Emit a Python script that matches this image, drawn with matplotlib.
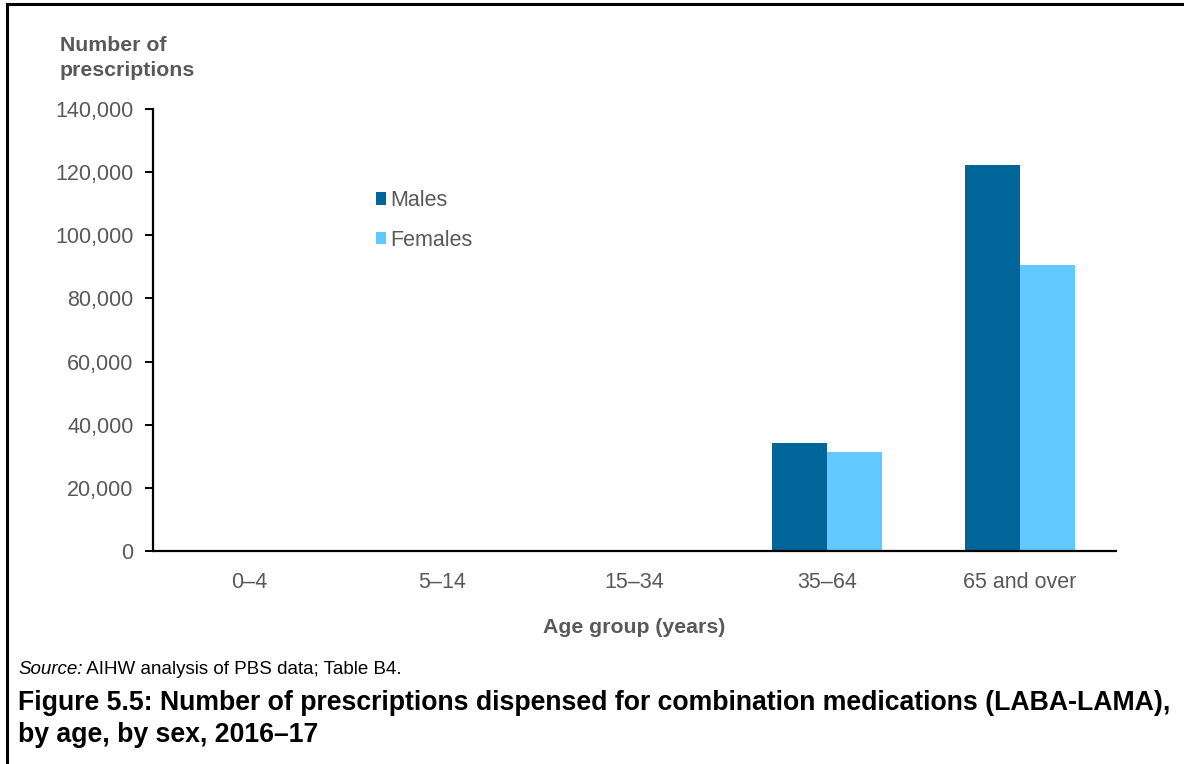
import numpy as np
import matplotlib
matplotlib.use("Agg")
import matplotlib.pyplot as plt
from matplotlib.lines import Line2D
from matplotlib.ticker import FuncFormatter

plt.rcParams["font.family"] = ["Liberation Sans", "DejaVu Sans"]

age_groups = ["0–4", "5–14", "15–34", "35–64", "65 and over"]
males = [0, 0, 400, 34200, 122200]
females = [0, 0, 100, 31400, 90700]

male_color = "#006699"
female_color = "#61C9FF"
grey = "#595959"

fig = plt.figure(figsize=(11.84, 7.64), dpi=100)
ax = fig.add_axes([0.1292, 0.2788, 0.8134, 0.5785])

x = np.arange(len(age_groups))
w = 0.285
ax.bar(x - w / 2, males, width=w, color=male_color, label="Males")
ax.bar(x + w / 2, females, width=w, color=female_color, label="Females")

ax.set_xlim(-0.5, len(age_groups) - 0.5)
ax.set_ylim(0, 140000)
ax.set_yticks(np.arange(0, 140001, 20000))
ax.yaxis.set_major_formatter(FuncFormatter(lambda v, p: f"{int(v):,}"))
ax.set_xticks(x)
ax.set_xticklabels(age_groups)

for s in ["top", "right"]:
    ax.spines[s].set_visible(False)
for s in ["left", "bottom"]:
    ax.spines[s].set_linewidth(1.6)
    ax.spines[s].set_color("black")

ax.tick_params(axis="y", length=6, width=1.4, colors="black", labelcolor=grey,
               labelsize=15.5, pad=8)
ax.tick_params(axis="x", length=0, labelcolor=grey, labelsize=15.5, pad=15)

ax.set_xlabel("Age group (years)", fontsize=15.3, fontweight="bold", color=grey,
              labelpad=18)

fig.text(60 / 1184, 1 - 58 / 764, "Number of\nprescriptions", fontsize=15.3,
         fontweight="bold", color=grey, ha="left", va="center", linespacing=1.38)

ax.legend(loc="upper left", bbox_to_anchor=(0.211, 0.86), frameon=False,
          fontsize=15.5, handlelength=0.5, handleheight=0.5, handletextpad=0.2,
          labelspacing=0.85, labelcolor=grey)

src = fig.text(18 / 1184, 1 - 669 / 764, "Source:", fontsize=13.5, style="italic",
               color="black", ha="left", va="center")
ax.annotate(" AIHW analysis of PBS data; Table B4.", xy=(1, 0.5),
            xycoords=src, fontsize=13.5, color="black", ha="left", va="center",
            annotation_clip=False)

fig.text(18 / 1184, 1 - 719 / 764,
         "Figure 5.5: Number of prescriptions dispensed for combination medications (LABA-LAMA),\nby age, by sex, 2016–17",
         fontsize=19.2, fontweight="bold", color="black", ha="left", va="center",
         linespacing=1.25)

# frame round the figure
fig.add_artist(Line2D([7 / 1184, 1], [1 - 4 / 764, 1 - 4 / 764],
                      transform=fig.transFigure, color="black", lw=2.2))
fig.add_artist(Line2D([7 / 1184, 7 / 1184], [0, 1 - 4 / 764],
                      transform=fig.transFigure, color="black", lw=2.2))

fig.savefig("out.png", dpi=100)
